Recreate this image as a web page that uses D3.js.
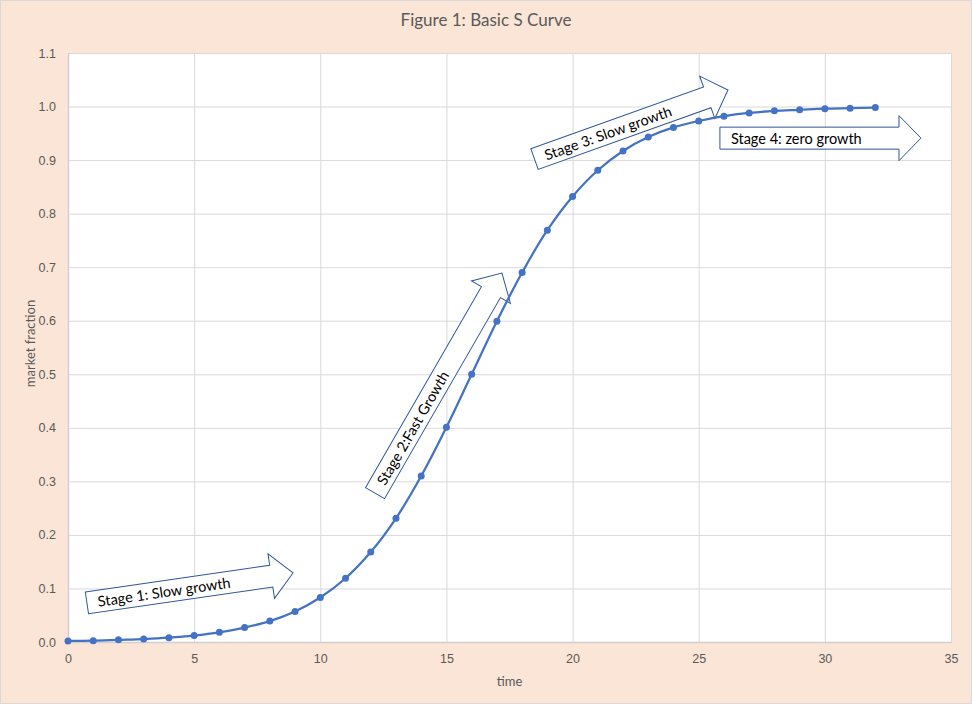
<!DOCTYPE html>
<html>
<head>
<meta charset="utf-8">
<script src="https://cdn.jsdelivr.net/npm/d3@7"></script>
<style>
  html, body { margin: 0; padding: 0; background: #fff; }
  svg { display: block; font-family: Lato, "Open Sans", sans-serif; }
  .grid line { stroke: #d9d9d9; stroke-width: 1; }
  .tick text { fill: #595959; font-size: 12.5px; }
</style>
</head>
<body>
<div id="wrapper"></div>
<script>
// data
const times = [0, 1, 2, 3, 4, 5, 6, 7, 8, 9, 10, 11, 12, 13, 14, 15, 16,
               17, 18, 19, 20, 21, 22, 23, 24, 25, 26, 27, 28, 29, 30, 31, 32]
const fractions = [0.002, 0.0025, 0.004, 0.0055, 0.008, 0.012, 0.018, 0.027, 0.039, 0.057, 0.083,
                   0.119, 0.168, 0.231, 0.310, 0.401, 0.500, 0.599, 0.690, 0.769, 0.832,
                   0.881, 0.917, 0.943, 0.961, 0.973, 0.982, 0.988, 0.992, 0.994, 0.996, 0.997, 0.998]
const xTicks = [0, 5, 10, 15, 20, 25, 30, 35]
const yTicks = [0, 0.1, 0.2, 0.3, 0.4, 0.5, 0.6, 0.7, 0.8, 0.9, 1.0, 1.1]

// stage arrows: from (x0,y0) to tip (x1,y1) in data units
const stageLabels = ["Stage 1: Slow growth", "Stage 2:Fast Growth", "Stage 3: Slow growth", "Stage 4: zero growth"]
const stageFrom = [[0.75, 0.073], [12.17, 0.278], [18.49, 0.902], [25.84, 0.941]]
const stageTo = [[8.92, 0.129], [17.2, 0.689], [26.16, 1.031], [33.81, 0.941]]

const dataset = times.map((t, i) => ({t, v: fractions[i]}))

let dimensions = {
    width: 972,
    height: 704,
    margin: {top: 53, right: 21, bottom: 62, left: 68}
}
dimensions.boundedWidth = dimensions.width - dimensions.margin.left - dimensions.margin.right
dimensions.boundedHeight = dimensions.height - dimensions.margin.top - dimensions.margin.bottom

const wrapper = d3.select("#wrapper")
    .append("svg")
        .attr("width", dimensions.width)
        .attr("height", dimensions.height)

wrapper.append("rect")
    .attr("x", 0.5).attr("y", 0.5)
    .attr("width", dimensions.width - 1)
    .attr("height", dimensions.height - 1)
    .attr("fill", "#fbe5d6")
    .attr("stroke", "#d9d9d9")

wrapper.append("text")
    .attr("x", dimensions.width / 2)
    .attr("y", 26)
    .attr("text-anchor", "middle")
    .attr("fill", "#595959")
    .style("font-size", "17px")
    .text("Figure 1: Basic S Curve")

const bounds = wrapper.append("g")
    .attr("transform", `translate(${dimensions.margin.left},${dimensions.margin.top})`)

bounds.append("rect")
    .attr("width", dimensions.boundedWidth)
    .attr("height", dimensions.boundedHeight)
    .attr("fill", "#fff")

const xScale = d3.scaleLinear()
    .domain([0, 35])
    .range([0, dimensions.boundedWidth])

const yScale = d3.scaleLinear()
    .domain([0, 1.1])
    .range([dimensions.boundedHeight, 0])

// gridlines
bounds.append("g")
    .attr("class", "grid")
    .call(d3.axisLeft(yScale).tickValues(yTicks).tickSize(-dimensions.boundedWidth).tickFormat(""))
    .call(g => g.select(".domain").remove())

bounds.append("g")
    .attr("class", "grid")
    .attr("transform", `translate(0,${dimensions.boundedHeight})`)
    .call(d3.axisBottom(xScale).tickValues(xTicks).tickSize(-dimensions.boundedHeight).tickFormat(""))
    .call(g => g.select(".domain").remove())

// axes
const yAxis = bounds.append("g")
    .call(d3.axisLeft(yScale).tickValues(yTicks).tickSize(0).tickPadding(12).tickFormat(d3.format(".1f")))
yAxis.select(".domain").attr("stroke", "#d0d0d0").attr("stroke-width", 1.5)

const xAxis = bounds.append("g")
    .attr("transform", `translate(0,${dimensions.boundedHeight})`)
    .call(d3.axisBottom(xScale).tickValues(xTicks).tickSize(0).tickPadding(12))
xAxis.select(".domain").attr("stroke", "#d0d0d0").attr("stroke-width", 1.5)

bounds.append("text")
    .attr("x", dimensions.boundedWidth / 2)
    .attr("y", dimensions.boundedHeight + 44)
    .attr("text-anchor", "middle")
    .attr("fill", "#595959")
    .style("font-size", "13px")
    .text("time")

bounds.append("text")
    .attr("transform", `translate(-33,${dimensions.boundedHeight / 2 - 4}) rotate(-90)`)
    .attr("text-anchor", "middle")
    .attr("fill", "#595959")
    .style("font-size", "13px")
    .text("market fraction")

// block arrows
const bodyHalf = 11, headHalf = 22.5, headLen = 22
const arrows = bounds.append("g")
    .selectAll("g")
    .data(stageLabels.map((label, i) => ({label, from: stageFrom[i], to: stageTo[i]})))
    .join("g")
    .attr("transform", d => {
        const x0 = xScale(d.from[0]), y0 = yScale(d.from[1])
        const x1 = xScale(d.to[0]), y1 = yScale(d.to[1])
        d.len = Math.hypot(x1 - x0, y1 - y0)
        const angle = Math.atan2(y1 - y0, x1 - x0) * 180 / Math.PI
        return `translate(${x0},${y0}) rotate(${angle})`
    })

arrows.append("path")
    .attr("d", d => {
        const b = d.len - headLen
        return `M0,${-bodyHalf}L${b},${-bodyHalf}L${b},${-headHalf}L${d.len},0L${b},${headHalf}L${b},${bodyHalf}L0,${bodyHalf}Z`
    })
    .attr("fill", "#fff")
    .attr("stroke", "#2f5597")
    .attr("stroke-width", 1)

arrows.append("text")
    .attr("x", 11)
    .attr("y", 5.5)
    .attr("fill", "#000")
    .style("font-size", "14.5px")
    .text(d => d.label)

// series
const lineGenerator = d3.line()
    .x(d => xScale(d.t))
    .y(d => yScale(d.v))
    .curve(d3.curveCatmullRom.alpha(0.5))

bounds.append("path")
    .datum(dataset)
    .attr("d", lineGenerator)
    .attr("fill", "none")
    .attr("stroke", "#4472c4")
    .attr("stroke-width", 2.25)

bounds.append("g")
    .selectAll("circle")
    .data(dataset)
    .join("circle")
    .attr("cx", d => xScale(d.t))
    .attr("cy", d => yScale(d.v))
    .attr("r", 3.5)
    .attr("fill", "#4472c4")
</script>
</body>
</html>
